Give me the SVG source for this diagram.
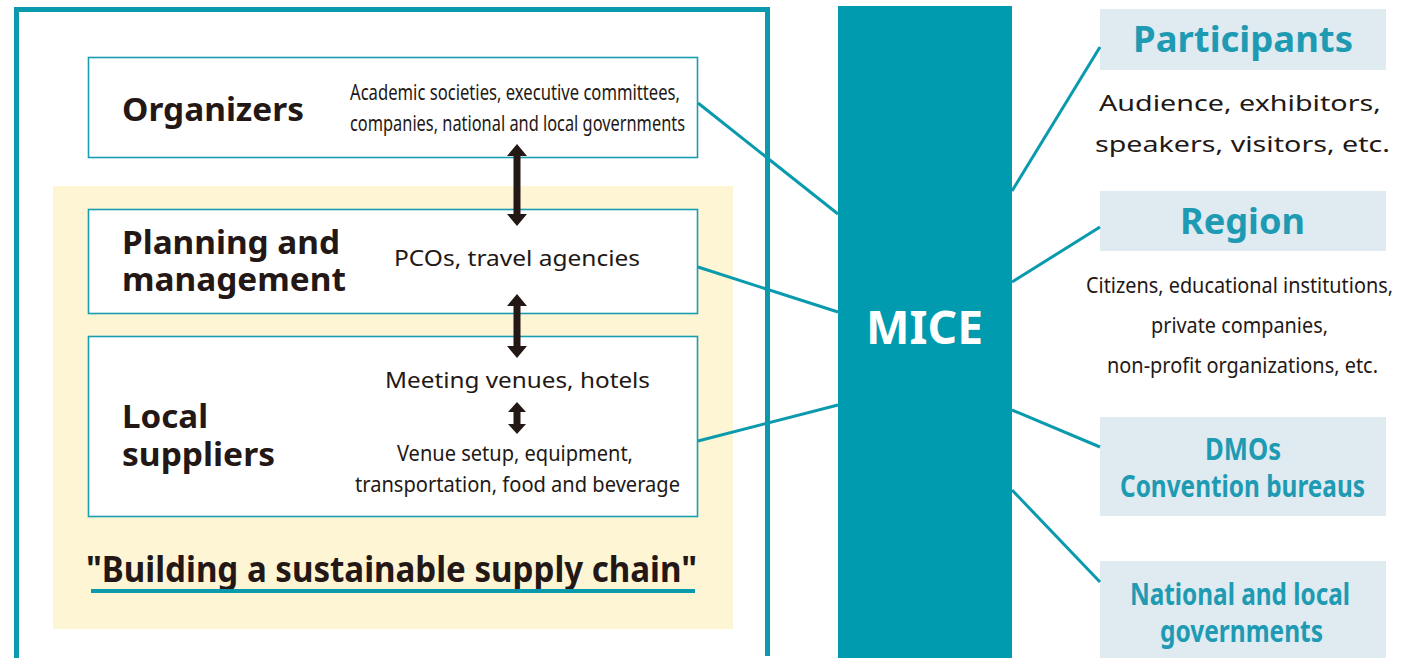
<svg xmlns="http://www.w3.org/2000/svg" width="1409" height="658" viewBox="0 0 1409 658">
<style>
.box{fill:#fff;stroke:#1a9db0;stroke-width:1.6}
.conn{stroke:#0a9aae;stroke-width:3;fill:none}
.lbl{font-family:"Noto Sans","Open Sans",sans-serif;font-weight:bold;font-size:32px;fill:#231815}
.reg{font-family:"Noto Sans","Open Sans",sans-serif;font-size:22px;fill:#231815}
.cnd{font-family:"Noto Sans","Open Sans",sans-serif;font-size:22px;fill:#231815}
.tl{font-family:"Noto Sans","Open Sans",sans-serif;font-weight:bold;font-size:36px;fill:#1e9bb2}
.tlc{font-family:"Noto Sans","Open Sans",sans-serif;font-weight:bold;font-size:31px;fill:#1e9bb2}
.rb{fill:#dfeaf1}
.arr{fill:#231815}
</style>
<defs>
<linearGradient id="fade" x1="0" x2="1" y1="0" y2="0">
<stop offset="0" stop-color="#0a9aae" stop-opacity="0"/>
<stop offset="0.2" stop-color="#0a9aae" stop-opacity="1"/>
</linearGradient>
</defs>
<rect width="1409" height="658" fill="#fff"/>
<g id="frame">
<path d="M16.5 658 V9.5 H767.5 V656" fill="none" stroke="#0a9aae" stroke-width="5"/>
<line x1="130" y1="656.5" x2="770" y2="656.5" stroke="url(#fade)" stroke-width="4"/>
</g>
<g id="supply-band">
<rect x="53" y="186" width="680" height="443" fill="#fef5d5"/>
<text x="86" y="582" font-family="Noto Sans, Open Sans, sans-serif" font-weight="bold" font-size="36" fill="#231815" textLength="611" lengthAdjust="spacingAndGlyphs">"Building a sustainable supply chain"</text>
<rect x="91" y="589" width="604" height="4" fill="#0a9aae"/>
</g>
<g id="organizers">
<rect class="box" x="88.5" y="57.5" width="609" height="100"/>
<text class="lbl" x="122" y="121" textLength="182" lengthAdjust="spacingAndGlyphs">Organizers</text>
<text class="cnd" x="350" y="100" textLength="330" lengthAdjust="spacingAndGlyphs">Academic societies, executive committees,</text>
<text class="cnd" x="350" y="131" textLength="335" lengthAdjust="spacingAndGlyphs">companies, national and local governments</text>
</g>
<g id="planning">
<rect class="box" x="88.5" y="209.5" width="609" height="104"/>
<text class="lbl" x="122" y="254" textLength="218" lengthAdjust="spacingAndGlyphs">Planning and</text>
<text class="lbl" x="122" y="291" textLength="224" lengthAdjust="spacingAndGlyphs">management</text>
<text class="reg" x="394" y="266" textLength="246" lengthAdjust="spacingAndGlyphs">PCOs, travel agencies</text>
</g>
<g id="suppliers">
<rect class="box" x="88.5" y="336.5" width="609" height="180"/>
<text class="lbl" x="122" y="428" textLength="86" lengthAdjust="spacingAndGlyphs">Local</text>
<text class="lbl" x="122" y="466" textLength="153" lengthAdjust="spacingAndGlyphs">suppliers</text>
<text class="reg" x="385" y="388" textLength="265" lengthAdjust="spacingAndGlyphs">Meeting venues, hotels</text>
<text class="cnd" x="397" y="461" textLength="236" lengthAdjust="spacingAndGlyphs">Venue setup, equipment,</text>
<text class="cnd" x="355" y="492" textLength="325" lengthAdjust="spacingAndGlyphs">transportation, food and beverage</text>
</g>
<g id="mice">
<rect x="838" y="6" width="174" height="652" fill="#009bae"/>
<text x="866" y="344" font-family="Noto Sans, Open Sans, sans-serif" font-weight="bold" font-size="46" fill="#fff" textLength="117" lengthAdjust="spacingAndGlyphs">MICE</text>
</g>
<g id="participants">
<rect class="rb" x="1100" y="9" width="286" height="61"/>
<text class="tl" x="1133" y="52" textLength="220" lengthAdjust="spacingAndGlyphs">Participants</text>
<text class="reg" x="1099" y="111" font-size="28" textLength="282" lengthAdjust="spacingAndGlyphs">Audience, exhibitors,</text>
<text class="reg" x="1095" y="152" font-size="28" textLength="295" lengthAdjust="spacingAndGlyphs">speakers, visitors, etc.</text>
</g>
<g id="region">
<rect class="rb" x="1100" y="191" width="286" height="60"/>
<text class="tl" x="1180" y="234" textLength="125" lengthAdjust="spacingAndGlyphs">Region</text>
<text class="cnd" x="1086" y="293" textLength="307" lengthAdjust="spacingAndGlyphs">Citizens, educational institutions,</text>
<text class="cnd" x="1151" y="333" textLength="177" lengthAdjust="spacingAndGlyphs">private companies,</text>
<text class="cnd" x="1107" y="373" textLength="271" lengthAdjust="spacingAndGlyphs">non-profit organizations, etc.</text>
</g>
<g id="dmos">
<rect class="rb" x="1100" y="417" width="286" height="99"/>
<text class="tlc" x="1205" y="460" textLength="76" lengthAdjust="spacingAndGlyphs">DMOs</text>
<text class="tlc" x="1120" y="497" textLength="245" lengthAdjust="spacingAndGlyphs">Convention bureaus</text>
</g>
<g id="governments">
<rect class="rb" x="1100" y="561" width="286" height="97"/>
<text class="tlc" x="1130" y="605" textLength="220" lengthAdjust="spacingAndGlyphs">National and local</text>
<text class="tlc" x="1160" y="642" textLength="163" lengthAdjust="spacingAndGlyphs">governments</text>
</g>
<g id="connectors">
<line class="conn" x1="698" y1="103" x2="838" y2="214"/>
<line class="conn" x1="698" y1="267" x2="838" y2="312"/>
<line class="conn" x1="698" y1="441" x2="838" y2="405"/>
<line class="conn" x1="1012" y1="191" x2="1100" y2="47"/>
<line class="conn" x1="1012" y1="282" x2="1100" y2="227"/>
<line class="conn" x1="1012" y1="410" x2="1100" y2="447"/>
<line class="conn" x1="1012" y1="490" x2="1100" y2="582"/>
<polygon class="arr" points="517,144 527,156 520.5,156 520.5,214 527,214 517,226 507,214 513.5,214 513.5,156 507,156"/>
<polygon class="arr" points="517,294 527,306 520.5,306 520.5,346 527,346 517,358 507,346 513.5,346 513.5,306 507,306"/>
<polygon class="arr" points="517,402 526,412 520.5,412 520.5,424 526,424 517,434 508,424 513.5,424 513.5,412 508,412"/>
</g>
</svg>
